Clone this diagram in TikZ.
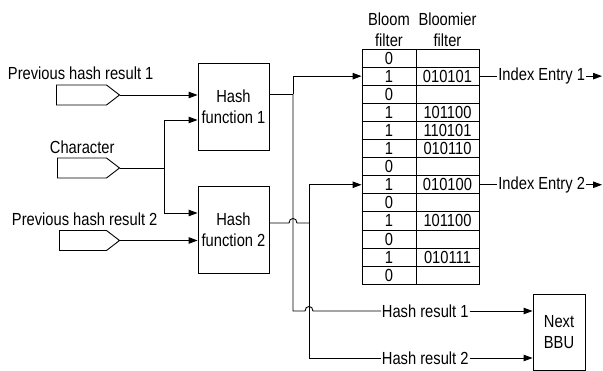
\documentclass[tikz,border=0pt]{standalone}
\usepackage{fontspec}
\setmainfont[FakeStretch=0.84]{Liberation Sans}
\usetikzlibrary{arrows.meta,shapes.symbols}

\begin{document}
\begin{tikzpicture}[x=1pt, y=-1pt, line width=0.9pt,
    >={Triangle[length=9pt,width=6.5pt]},
    txt/.style={font=\fontsize{17.5}{21}\selectfont, inner sep=0.5pt},
    box/.style={draw, txt, align=center, inner sep=0pt},
    inport/.style={draw, signal, signal to=east, signal pointer angle=75,
        minimum height=20pt, inner sep=0pt},
    cell/.style={draw, txt, inner sep=0pt, minimum height=18.1pt}]
    \useasboundingbox (0,0) rectangle (603,371);
    % hash function blocks
    \node [box, minimum width=71pt, minimum height=87pt] (hf1) at (233.5,106.5) {Hash\\function 1};
    \node [box, minimum width=71pt, minimum height=87pt] (hf2) at (233.5,229.5) {Hash\\function 2};
    % input ports
    \node [inport, minimum width=63pt] (in1) at (81.5,95) {};
    \node [inport, minimum width=62pt] (inc) at (82,168) {};
    \node [inport, minimum width=60pt] (in2) at (83,240.5) {};
    % input labels
    \node [txt, anchor=west] (lin1) at (7,73) {Previous hash result 1};
    \node [txt, anchor=west] (linc) at (49,147) {Character};
    \node [txt, anchor=west] (lin2) at (11,219) {Previous hash result 2};
    % inputs into hash functions
    \draw [->] (in1.east) -- (in1.east -| hf1.west);
    \draw [->] (in2.east) -- (in2.east -| hf2.west);
    \coordinate (cbr) at (164,168);
    \draw (inc.east) -- (cbr);
    \draw [->] (cbr) |- (hf1.west |- 0,120);
    \draw [->] (cbr) |- (hf2.west |- 0,213);
    % table headers
    \node [txt, align=center] (hbl) at (389,30) {Bloom\\filter};
    \node [txt, align=center] (hbm) at (447.5,30) {Bloomier\\filter};
    % table cells
    \foreach \b/\m [count=\i] in {0/{},1/010101,0/{},1/101100,1/110101,1/010110,0/{},
        1/010100,0/{},1/101100,0/{},1/010111,0/{}} {
        \node [cell, minimum width=54pt] (bl\i) at (389,49+18.1*\i-9.05) {\b};
        \node [cell, minimum width=63pt] (bm\i) at (447.5,49+18.1*\i-9.05) {\m};
    }
    % next stage block
    \node [box, minimum width=52pt, minimum height=76pt] (bbu) at (559,332) {Next\\BBU};
    % output labels
    \node [txt, anchor=west] (ie1) at ([xshift=18pt]bm2.east) {Index Entry 1};
    \node [txt, anchor=west] (ie2) at ([xshift=18pt]bm8.east) {Index Entry 2};
    \node [txt, anchor=west] (hr1) at (381,311) {Hash result 1};
    \node [txt, anchor=west] (hr2) at (381,358) {Hash result 2};
    \coordinate (ie1end) at (bm2 -| 602,0);
    \coordinate (ie2end) at (bm8 -| 602,0);
    % hash function 1 output
    \coordinate (j1) at (293,94);
    \draw (hf1.east |- j1) -- (j1);
    \draw [->] (j1) |- (bl2.west);
    \draw (j1) -- (293,311) -- (305,311) .. controls (305,305) and (313,305) .. (313,311) -- (hr1.west);
    \draw [->] (hr1.east) -- (hr1.east -| bbu.west);
    % hash function 2 output
    \coordinate (j2) at (309,223);
    \draw (hf2.east |- j2) -- (289,223) .. controls (289,217) and (297,217) .. (297,223) -- (j2);
    \draw [->] (j2) |- (bl8.west);
    \draw (j2) |- (hr2.west);
    \draw [->] (hr2.east) -- (hr2.east -| bbu.west);
    % index entries
    \draw (bm2.east) -- (ie1.west);
    \draw [->] (ie1.east) -- (ie1end);
    \draw (bm8.east) -- (ie2.west);
    \draw [->] (ie2.east) -- (ie2end);
\end{tikzpicture}
\end{document}
